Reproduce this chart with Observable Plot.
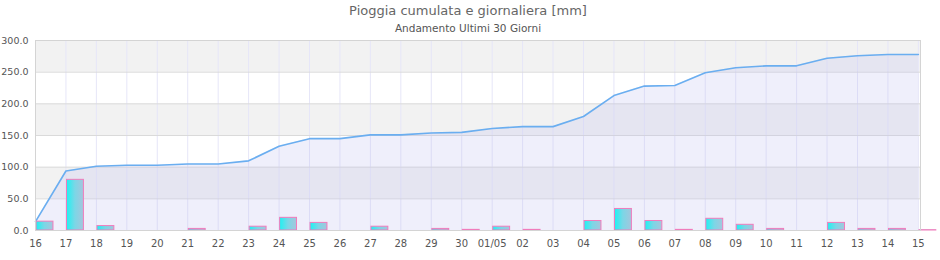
<!DOCTYPE html>
<html>
<head>
<meta charset="utf-8">
<script src="https://cdn.jsdelivr.net/npm/d3@7"></script>
<script src="https://cdn.jsdelivr.net/npm/@observablehq/plot@0.6"></script>
<style>
  body { margin: 0; background: white; font-family: "DejaVu Sans", sans-serif; }
  #wrap { position: relative; width: 940px; height: 260px; }
  #head { position: relative; width: 936px; height: 34px; text-align: center; }
  #title { position: absolute; left: 0; width: 100%; top: 0; font-size: 13px; line-height: 22px; color: #666; }
  #sub { position: absolute; left: 0; width: 100%; top: 22px; font-size: 10.5px; line-height: 12px; color: #555; }
  svg { display: block; }
</style>
</head>
<body>
<div id="wrap">
  <div id="head">
    <div id="title">Pioggia cumulata e giornaliera [mm]</div>
    <div id="sub">Andamento Ultimi 30 Giorni</div>
  </div>
  <div id="chart"></div>
</div>
<script>
const dayLabels = ["16","17","18","19","20","21","22","23","24","25","26","27","28","29","30",
  "01/05","02","03","04","05","06","07","08","09","10","11","12","13","14","15"];
const dailyRain = [14, 80, 7, 0, 0, 2.5, 0, 6, 20, 12, 0, 6, 0, 2.5, 1,
  6, 1, 0, 15, 34, 15, 1, 18.5, 9, 2.5, 0, 12, 2.5, 2.5, 0.5];
const cumulativeRain = [14, 94, 101.5, 103, 103, 105, 105, 110, 133, 145, 145, 151, 151, 154, 155,
  161, 164, 164, 180, 213, 228, 229, 249, 257, 260, 260, 272, 276, 278, 278];
const yTicks = [0, 50, 100, 150, 200, 250, 300];

const idx = dayLabels.map((_, i) => i);
const lineData = idx.map(i => ({i, v: cumulativeRain[i]}));
const barData = idx.map(i => ({i, v: dailyRain[i]})).filter(d => d.v > 0);
const bands = yTicks.slice(0, -1).map((y, k) => ({y1: y, y2: yTicks[k + 1], k}));

const plot = Plot.plot({
  width: 940,
  height: 226,
  marginTop: 6,
  marginBottom: 30,
  marginLeft: 35,
  marginRight: 20,
  style: {fontFamily: "DejaVu Sans", fontSize: "10px", color: "#555", background: "white", overflow: "visible"},
  x: {type: "linear", domain: [0, 29.07], axis: null, label: null},
  y: {domain: [0, 300], axis: null, label: null},
  marks: [
    Plot.rectY(bands, {x1: 0, x2: 29.07, y1: "y1", y2: "y2", fill: d => d.k % 2 === 1 ? "#f2f2f2" : "#ffffff"}),
    Plot.ruleX(idx, {x: d => d, stroke: "#e6e6f8", strokeWidth: 1}),
    Plot.ruleY(yTicks, {y: d => d, stroke: "#dadada", strokeWidth: 1}),
    Plot.areaY(lineData, {x: "i", y: "v", fill: "#bebef0", fillOpacity: 0.25}),
    Plot.lineY(lineData, {x: "i", y: "v", stroke: "#6aaef0", strokeWidth: 1.6}),
    Plot.rectY(barData, {x1: d => d.i + 0.035, x2: d => d.i + 0.59, y1: 0, y2: "v",
      fill: "url(#barGrad)", stroke: "#f07cbc", strokeWidth: 1}),
    Plot.frame({stroke: "#d4d4d4"}),
    Plot.axisX(idx, {tickFormat: i => dayLabels[i], tickSize: 0, tickPadding: 9, fill: "#555", label: null}),
    Plot.axisY(yTicks, {tickFormat: d => d.toFixed(1), tickSize: 0, tickPadding: 7, fontSize: 9.5, fill: "#555", label: null})
  ]
});

d3.select(plot).insert("defs", ":first-child").html(
  '<linearGradient id="barGrad" x1="0" x2="1" y1="0" y2="0">' +
  '<stop offset="0" stop-color="#1ef2f2"/><stop offset="0.5" stop-color="#7cd6e6"/><stop offset="1" stop-color="#a4c6dc"/>' +
  '</linearGradient>');

document.getElementById("chart").appendChild(plot);
</script>
</body>
</html>
